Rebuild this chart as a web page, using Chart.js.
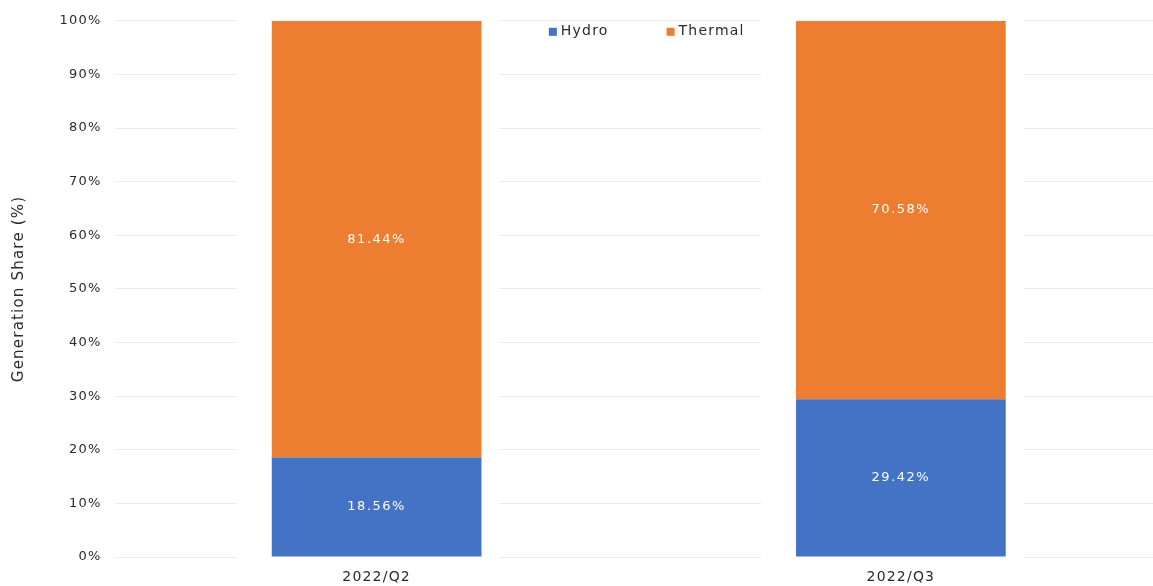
<!DOCTYPE html>
<html>
<head>
<meta charset="utf-8">
<title>Generation Share</title>
<script src="https://cdn.jsdelivr.net/npm/chart.js@4/dist/chart.umd.min.js"></script>
<style>
    html, body {
        margin: 0;
        padding: 0;
        background: #ffffff;
        overflow: hidden;
    }
    #chartBox {
        position: relative;
        width: 1163px;
        height: 586px;
    }
</style>
</head>
<body>
<div id="chartBox">
    <canvas id="shareChart"></canvas>
</div>
<script>
const quarters = ["2022/Q2", "2022/Q3"];
const hydroShare = [18.56, 29.42];
const thermalShare = [81.44, 70.58];
const yTicks = [0, 10, 20, 30, 40, 50, 60, 70, 80, 90, 100];

const HYDRO_COLOR = "#4472C4";
const THERMAL_COLOR = "#ED7D31";
const TEXT_COLOR = "#2b2b2b";
const FONT = "'DejaVu Sans', sans-serif";

// wide, spaced-out lettering for every text on the canvas
const spacingPlugin = {
    id: "letterSpacing",
    beforeDraw(chart) {
        chart.ctx.letterSpacing = "1.2px";
    },
};

// white gap so the gridlines stop short of each bar
const gridGapPlugin = {
    id: "gridGap",
    beforeDatasetsDraw(chart) {
        const ctx = chart.ctx;
        const area = chart.chartArea;
        const meta = chart.getDatasetMeta(0);
        ctx.save();
        ctx.fillStyle = "#ffffff";
        meta.data.forEach((bar) => {
            const half = bar.width / 2;
            ctx.fillRect(bar.x - half - 35, area.top - 2, bar.width + 35 + 18, area.bottom - area.top + 4);
        });
        ctx.restore();
    },
};

// value labels in the middle of every segment
const segmentLabelPlugin = {
    id: "segmentLabels",
    afterDatasetsDraw(chart) {
        const ctx = chart.ctx;
        ctx.save();
        ctx.letterSpacing = "1.5px";
        ctx.font = "13px " + FONT;
        ctx.fillStyle = "#ffffff";
        ctx.textAlign = "center";
        ctx.textBaseline = "middle";
        chart.data.datasets.forEach((ds, di) => {
            chart.getDatasetMeta(di).data.forEach((bar, i) => {
                const midY = (bar.y + bar.base) / 2;
                ctx.fillText(ds.data[i].toFixed(2) + "%", bar.x, midY);
            });
        });
        ctx.restore();
    },
};

// legend row floating inside the top of the plot
const topLegendPlugin = {
    id: "topLegend",
    afterDraw(chart) {
        const ctx = chart.ctx;
        const area = chart.chartArea;
        const box = 8;
        const boxGap = 4;
        const itemGap = 58;
        ctx.save();
        ctx.letterSpacing = "1.2px";
        ctx.font = "14px " + FONT;
        ctx.textBaseline = "middle";
        ctx.textAlign = "left";
        const items = chart.data.datasets.map((ds) => ({
            label: ds.label,
            color: ds.backgroundColor,
            w: box + boxGap + ctx.measureText(ds.label).width,
        }));
        const total = items.reduce((s, it) => s + it.w, 0) + itemGap * (items.length - 1);
        let x = (area.left + area.right) / 2 + 8 - total / 2;
        const y = area.top + 11;
        items.forEach((it) => {
            ctx.fillStyle = it.color;
            ctx.fillRect(x, y - box / 2, box, box);
            ctx.fillStyle = TEXT_COLOR;
            ctx.fillText(it.label, x + box + boxGap, y);
            x += it.w + itemGap;
        });
        ctx.restore();
    },
};

new Chart(document.getElementById("shareChart"), {
    type: "bar",
    data: {
        labels: quarters,
        datasets: [
            {
                label: "Hydro",
                data: hydroShare,
                backgroundColor: HYDRO_COLOR,
                categoryPercentage: 0.4,
                barPercentage: 1.0,
            },
            {
                label: "Thermal",
                data: thermalShare,
                backgroundColor: THERMAL_COLOR,
                categoryPercentage: 0.4,
                barPercentage: 1.0,
            },
        ],
    },
    options: {
        responsive: true,
        maintainAspectRatio: false,
        animation: false,
        layout: {
            padding: { top: 19, right: 0, bottom: 0, left: 0 },
        },
        plugins: {
            legend: { display: false },
            tooltip: { enabled: false },
        },
        scales: {
            x: {
                stacked: true,
                grid: { display: false },
                border: { display: false },
                ticks: {
                    color: TEXT_COLOR,
                    padding: 4,
                    font: { family: FONT, size: 14 },
                },
                afterFit(scale) {
                    scale.height = 29;
                },
            },
            y: {
                stacked: true,
                min: 0,
                max: 100,
                afterBuildTicks(scale) {
                    scale.ticks = yTicks.map((v) => ({ value: v }));
                },
                grid: {
                    color: "#ececec",
                    drawTicks: false,
                },
                border: { display: false },
                ticks: {
                    color: TEXT_COLOR,
                    padding: 13,
                    font: { family: FONT, size: 13 },
                    callback: (v) => v + "%",
                },
                title: {
                    display: true,
                    text: "Generation Share (%)",
                    color: TEXT_COLOR,
                    font: { family: FONT, size: 15 },
                    padding: { top: 10, bottom: 0 },
                },
                afterFit(scale) {
                    scale.width = 114.5;
                },
            },
        },
    },
    plugins: [spacingPlugin, gridGapPlugin, segmentLabelPlugin, topLegendPlugin],
});
</script>
</body>
</html>
